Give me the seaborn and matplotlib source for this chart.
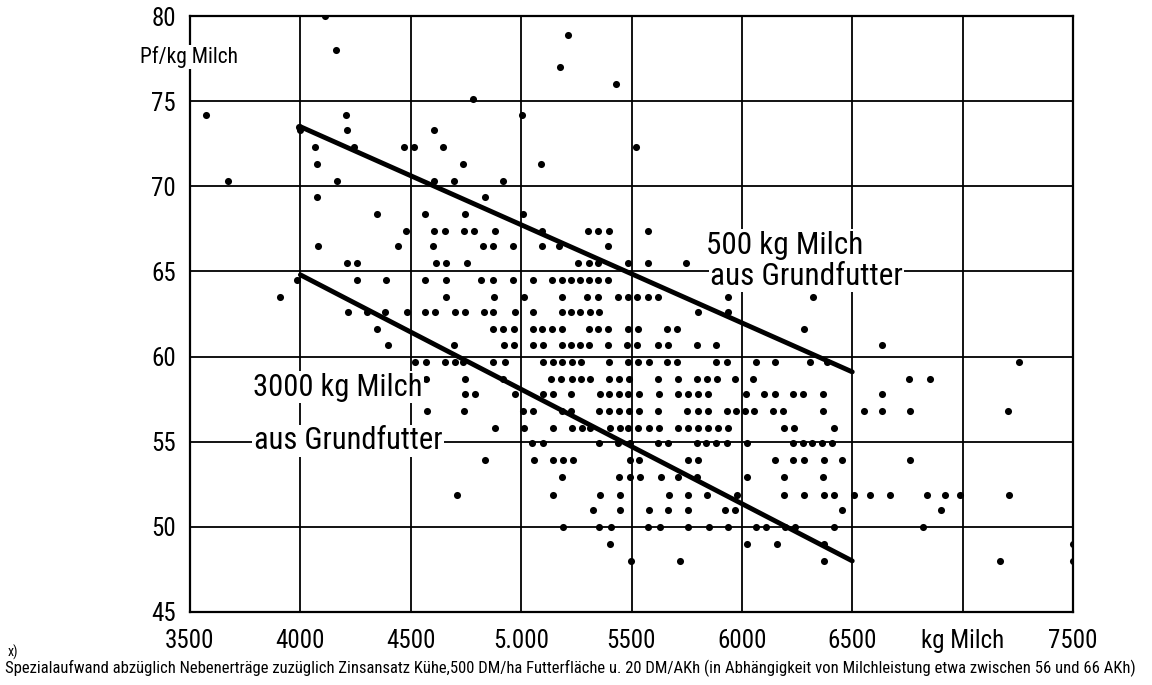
import matplotlib
matplotlib.use("Agg")
import matplotlib.pyplot as plt
from matplotlib import font_manager
import seaborn as sns
import pandas as pd

# ---------------- data ----------------
x_tick_values = [3500, 4000, 4500, 5000, 5500, 6000, 6500, 7000, 7500]
x_tick_labels = ["3500", "4000", "4500", "5.000", "5500", "6000", "6500", "kg Milch", "7500"]
y_tick_values = [45, 50, 55, 60, 65, 70, 75, 80]

line_x = [4000, 6500]
line_500kg_y = [73.5, 59.1]     # 500 kg Milch aus Grundfutter
line_3000kg_y = [64.8, 48.0]    # 3000 kg Milch aus Grundfutter

# dots, grouped by their (quantised) y level: Pf/kg Milch -> kg Milch values
x_at_80_0 = [4110]
x_at_78_9 = [5214]
x_at_78_0 = [4160]
x_at_77_0 = [5176]
x_at_76_0 = [5430]
x_at_75_1 = [4781]
x_at_74_2 = [3571, 4205, 5002]
x_at_73_5 = [3995]
x_at_73_3 = [3998, 4210, 4605]
x_at_72_3 = [4066, 4244, 4471, 4516, 4647, 5520]
x_at_71_3 = [4074, 4735, 5090]
x_at_70_3 = [3671, 4166, 4607, 4697, 4916]
x_at_69_4 = [4075, 4835]
x_at_68_4 = [4346, 4565, 4746, 5007]
x_at_67_4 = [4477, 4607, 4655, 4743, 4787, 4882, 5093, 5304, 5350, 5398, 5573]
x_at_66_5 = [4080, 4440, 4599, 4826, 4871, 4965, 5093, 5172, 5392]
x_at_65_5 = [4213, 4258, 4614, 4660, 4753, 5259, 5307, 5350, 5486, 5576, 5745]
x_at_64_5 = [3986, 4256, 4389, 4565, 4658, 4817, 4874, 4965, 5055, 5138, 5184,
             5224, 5267, 5307, 5350, 5395]
x_at_63_5 = [3906, 4660, 4879, 5015, 5184, 5300, 5350, 5440, 5486, 5525, 5573,
             5619, 5936, 6324]
x_at_62_6 = [4217, 4300, 4383, 4482, 4565, 4610, 4700, 4746, 4832, 4874, 4972,
             5055, 5184, 5224, 5267, 5312, 5353, 5803, 5936]
x_at_61_6 = [4349, 4874, 4919, 4969, 5055, 5096, 5138, 5184, 5309, 5350, 5395,
             5486, 5528, 5662, 5708, 6282]
x_at_60_7 = [4396, 4697, 4924, 4969, 5055, 5101, 5184, 5224, 5267, 5307, 5395,
             5478, 5525, 5619, 5667, 5795, 5883, 6633]
x_at_59_7 = [4520, 4569, 4655, 4700, 4738, 4874, 4927, 5098, 5143, 5184, 5229,
             5271, 5400, 5486, 5528, 5579, 5662, 5708, 5883, 5931, 6064, 6150,
             6309, 6384, 7255]
x_at_58_7 = [4569, 4746, 4916, 5134, 5179, 5229, 5270, 5312, 5400, 5445, 5490,
             5619, 5709, 5795, 5841, 5886, 5969, 6052, 6759, 6852]
x_at_57_8 = [4746, 4791, 4972, 5098, 5146, 5224, 5357, 5400, 5445, 5486, 5532,
             5625, 5709, 5755, 5800, 5845, 6017, 6102, 6150, 6233, 6278, 6369,
             6633]
x_at_56_8 = [4572, 4743, 5007, 5055, 5184, 5226, 5354, 5400, 5445, 5490, 5534,
             5622, 5750, 5800, 5845, 5931, 5972, 6014, 6057, 6143, 6188, 6369,
             6553, 6636, 6762, 7206]
x_at_55_8 = [4882, 5013, 5146, 5229, 5277, 5312, 5403, 5448, 5486, 5531, 5579,
             5625, 5712, 5755, 5800, 5845, 5890, 5939, 6192, 6238, 6419]
x_at_54_9 = [5048, 5098, 5354, 5440, 5493, 5622, 5667, 5795, 5838, 5883, 5931,
             6022, 6233, 6276, 6316, 6364, 6410]
x_at_53_9 = [4836, 5060, 5146, 5191, 5233, 5493, 5534, 5755, 5800, 6150, 6233,
             6281, 6372, 6455, 6760]
x_at_52_9 = [5187, 5445, 5493, 5537, 5632, 5712, 5795, 6022, 6192, 6369]
x_at_51_9 = [4711, 5143, 5357, 5448, 5671, 5755, 5841, 5976, 6192, 6283, 6374,
             6419, 6509, 6580, 6670, 6840, 6920, 6990, 7210]
x_at_51_0 = [5324, 5448, 5579, 5667, 5758, 5924, 5969, 6455, 6900]
x_at_50_0 = [5191, 5354, 5406, 5576, 5629, 5758, 5851, 5936, 6063, 6108, 6195,
             6241, 6419, 6820]
x_at_49_0 = [5403, 6022, 6158, 6372, 7500]
x_at_48_0 = [5496, 5720, 6372, 7170, 7500]

dot_rows = [
    (80.0, x_at_80_0), (78.9, x_at_78_9), (78.0, x_at_78_0), (77.0, x_at_77_0),
    (76.0, x_at_76_0), (75.1, x_at_75_1), (74.2, x_at_74_2), (73.5, x_at_73_5),
    (73.3, x_at_73_3), (72.3, x_at_72_3), (71.3, x_at_71_3), (70.3, x_at_70_3),
    (69.4, x_at_69_4), (68.4, x_at_68_4), (67.4, x_at_67_4), (66.5, x_at_66_5),
    (65.5, x_at_65_5), (64.5, x_at_64_5), (63.5, x_at_63_5), (62.6, x_at_62_6),
    (61.6, x_at_61_6), (60.7, x_at_60_7), (59.7, x_at_59_7), (58.7, x_at_58_7),
    (57.8, x_at_57_8), (56.8, x_at_56_8), (55.8, x_at_55_8), (54.9, x_at_54_9),
    (53.9, x_at_53_9), (52.9, x_at_52_9), (51.9, x_at_51_9), (51.0, x_at_51_0),
    (50.0, x_at_50_0), (49.0, x_at_49_0), (48.0, x_at_48_0),
]

# ---------------- fonts ----------------
sns.set_style("white")
available = {f.name for f in font_manager.fontManager.ttflist}
narrow = None
for cand in ["Liberation Sans Narrow", "Roboto Condensed", "DejaVu Sans Condensed"]:
    if cand in available:
        narrow = cand
        break
families = ([narrow] if narrow else []) + ["DejaVu Sans"]
plt.rcParams["font.family"] = families

# ---------------- figure ----------------
W, H, DPI = 1152, 685, 100
fig = plt.figure(figsize=(W / DPI, H / DPI), dpi=DPI)
ax = fig.add_axes([190 / W, 1 - 612 / H, (1073 - 190) / W, (612 - 16) / H])

rows = []
for yv, xs in dot_rows:
    for xv in xs:
        rows.append({"kg": xv, "pf": yv})
df = pd.DataFrame(rows)

ax.set_xlim(3500, 7500)
ax.set_ylim(45, 80)
ax.set_xticks(x_tick_values)
ax.set_xticklabels(x_tick_labels)
ax.set_yticks(y_tick_values)
ax.set_yticklabels([str(v) for v in y_tick_values])
ax.grid(True, color="black", linewidth=1.3)
ax.set_axisbelow(True)
for s in ax.spines.values():
    s.set_color("black")
    s.set_linewidth(1.6)
ax.tick_params(axis="both", direction="out", length=6, width=1.3, color="black",
               labelsize=18, pad=4, labelcolor="black")
ax.tick_params(axis="x", pad=6)

sns.scatterplot(data=df, x="kg", y="pf", ax=ax, color="black", s=26,
                edgecolor="black", linewidth=0, zorder=3, legend=False)

lines_df = pd.DataFrame({
    "kg": line_x + line_x,
    "pf": line_500kg_y + line_3000kg_y,
    "which": ["500"] * 2 + ["3000"] * 2,
})
sns.lineplot(data=lines_df, x="kg", y="pf", units="which", estimator=None,
             color="black", linewidth=3.5, ax=ax, zorder=4, legend=False)
ax.set_xlabel("")
ax.set_ylabel("")

txt_kw = dict(color="black", zorder=5,
              bbox=dict(facecolor="white", edgecolor="none", pad=1.0))
ax.text(5837, 66.55, "500 kg Milch", fontsize=22.5, ha="left", va="center", **txt_kw)
ax.text(5855, 64.7, "aus Grundfutter", fontsize=22.5, ha="left", va="center", **txt_kw)
ax.text(3785, 58.2, "3000 kg Milch", fontsize=22, ha="left", va="center", **txt_kw)
ax.text(3790, 55.05, "aus Grundfutter", fontsize=22, ha="left", va="center", **txt_kw)

fig.text(140 / W, 1 - 57 / H, "Pf/kg Milch", fontsize=15.5, ha="left", va="center",
         color="black", zorder=6,
         bbox=dict(facecolor="white", edgecolor="none", pad=1.0))

fig.text(8 / W, 1 - 652 / H, "x)", fontsize=10, ha="left", va="center", color="black")
foot = fig.text(5 / W, 1 - 668 / H,
                "Spezialaufwand abzüglich Nebenerträge zuzüglich Zinsansatz Kühe,500 DM/ha "
                "Futterfläche u. 20 DM/AKh (in Abhängigkeit von Milchleistung etwa zwischen "
                "56 und 66 AKh)",
                fontsize=14, ha="left", va="center", color="black")
# shrink the footnote so it spans the same width as in the reference
fig.canvas.draw()
r = fig.canvas.get_renderer()
wpx = foot.get_window_extent(r).width
target = 1135
foot.set_fontsize(14 * target / wpx)

fig.savefig("out.png", dpi=DPI, facecolor="white")
